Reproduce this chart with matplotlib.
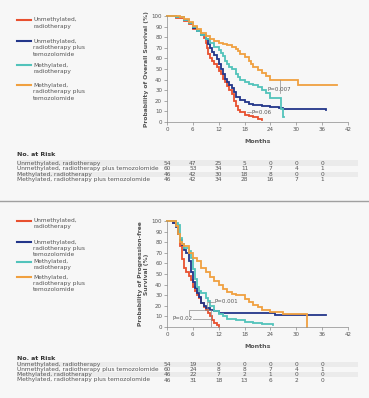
import matplotlib
matplotlib.use('Agg')
import matplotlib.pyplot as plt
import matplotlib.transforms as mtransforms
from matplotlib.lines import Line2D
from matplotlib.patches import Rectangle

W, H = 369, 398

# ---- data ----
groups = ['Unmethylated, radiotherapy',
          'Unmethylated, radiotherapy plus temozolomide',
          'Methylated, radiotherapy',
          'Methylated, radiotherapy plus temozolomide']
legend_labels = ['Unmethylated,\nradiotherapy',
                 'Unmethylated,\nradiotherapy plus\ntemozolomide',
                 'Methylated,\nradiotherapy',
                 'Methylated,\nradiotherapy plus\ntemozolomide']
colors = ['#e8502f', '#23368a', '#52c3bb', '#f0a040']

x_ticks = [0, 6, 12, 18, 24, 30, 36, 42]
y_ticks = [0, 10, 20, 30, 40, 50, 60, 70, 80, 90, 100]
risk_months = [0, 6, 12, 18, 24, 30, 36]

# overall survival, step points (months, %)
os_t = [
    [0, 2, 4, 5, 6, 7, 8, 8.5, 9, 9.3, 9.6, 10, 10.5, 11, 11.5, 12, 12.5, 13, 13.5, 14, 14.5, 15, 15.5, 16, 16.5, 17, 18, 19, 20, 21, 22],
    [0, 2, 4, 5, 6, 7, 8, 9, 9.5, 10, 10.5, 11, 11.5, 12, 12.5, 13, 13.5, 14, 14.5, 15, 15.5, 16, 17, 18, 19, 20, 22, 24, 26, 27, 37],
    [0, 2, 4, 5, 6, 7, 8, 9, 10, 11, 12, 12.5, 13, 13.5, 14, 14.5, 15, 16, 16.5, 17, 18, 19, 20, 21, 22, 23, 24, 25, 26.5, 27, 27.2],
    [0, 3, 4, 5, 6, 7, 8, 9, 10, 11, 12, 13, 14, 15, 16, 16.5, 17, 18, 19, 19.5, 20, 21, 22, 23, 24, 27, 28, 30.5, 39.5],
]
os_s = [
    [100, 98, 95, 92, 88, 86, 82, 79, 75, 70, 64, 60, 58, 55, 52, 48, 45, 41, 38, 34, 30, 26, 20, 15, 11, 9, 7, 6, 5, 3, 2],
    [100, 99, 96, 93, 89, 86, 82, 78, 74, 70, 66, 63, 59, 55, 50, 45, 41, 38, 35, 32, 28, 24, 21, 19, 17, 16, 15, 14, 13, 12, 11],
    [100, 99, 96, 93, 90, 86, 82, 78, 75, 71, 68, 65, 62, 58, 55, 52, 50, 45, 42, 40, 38, 36, 35, 33, 30, 27, 23, 23, 12, 5, 5],
    [100, 99, 97, 94, 91, 88, 84, 81, 78, 76, 75, 74, 73, 71, 69, 67, 64, 61, 58, 55, 52, 49, 46, 43, 40, 40, 40, 35, 35],
]

# progression-free survival, step points (months, %)
pfs_t = [
    [0, 1.5, 2, 2.5, 3, 3.5, 4, 4.5, 5, 5.5, 6, 6.5, 7, 7.5, 8, 8.5, 9, 9.5, 10, 10.5, 11, 11.5, 12],
    [0, 1.5, 2, 2.5, 3, 3.5, 4, 4.5, 5, 5.5, 6, 6.5, 7, 7.5, 8, 8.5, 9, 10, 11, 12, 24, 25, 37],
    [0, 2, 2.5, 3, 3.5, 4, 5, 5.5, 6, 6.5, 7, 7.5, 8, 9, 9.5, 10, 11, 12, 13, 14, 16, 18, 20, 22, 24.5],
    [0, 1, 2, 2.5, 3, 3.5, 4, 5, 6, 7, 8, 9, 10, 11, 12, 13, 14, 15, 16, 18, 19, 20, 21, 22, 24, 27, 32.3, 32.4],
]
pfs_s = [
    [100, 98, 95, 88, 76, 64, 56, 52, 48, 44, 38, 34, 30, 27, 23, 19, 16, 13, 10, 7, 4, 2, 0],
    [100, 98, 94, 88, 82, 77, 73, 70, 62, 52, 42, 37, 32, 28, 23, 20, 18, 16, 15, 13, 13, 11, 11],
    [100, 98, 96, 84, 78, 75, 72, 65, 55, 45, 38, 34, 32, 27, 25, 20, 15, 12, 10, 8, 7, 5, 4, 3, 2],
    [100, 100, 95, 88, 80, 78, 76, 70, 65, 62, 56, 52, 47, 43, 40, 36, 33, 31, 30, 26, 24, 21, 19, 16, 14, 12, 12, 0],
]

os_risk = [[54, 47, 25, 5, 0, 0, 0],
           [60, 53, 34, 11, 7, 4, 1],
           [46, 42, 30, 18, 8, 0, 0],
           [46, 42, 34, 28, 16, 7, 1]]
pfs_risk = [[54, 19, 0, 0, 0, 0, 0],
            [60, 24, 8, 8, 7, 4, 1],
            [46, 22, 7, 2, 1, 0, 0],
            [46, 31, 18, 13, 6, 2, 0]]

txt = '#555555'
grey = '#8a8a8a'
plt.rcParams['font.family'] = ['DejaVu Sans']

fig = plt.figure(figsize=(W / 100, H / 100), dpi=100, facecolor='#f7f7f7')


def fy(py):
    return 1 - py / H


def fx(px):
    return px / W


def panel(top_px, times, surv, ylabel, risk, legend_y, header_y, row_y, line_sp):
    ax = fig.add_axes([fx(167), fy(top_px + 106), fx(181), 106 / H])
    ax.set_facecolor('none')
    for t, s, c in zip(times, surv, colors):
        ax.step(t, s, where='post', color=c, lw=1.3, clip_on=False, solid_joinstyle='miter')
    ax.set_xlim(0, 42)
    ax.set_ylim(0, 100)
    ax.set_xticks(x_ticks)
    ax.set_yticks(y_ticks)
    ax.tick_params(labelsize=4, colors=grey, labelcolor=txt, length=2, width=0.5, pad=1.5)
    for sp in ['top', 'right']:
        ax.spines[sp].set_visible(False)
    for sp in ['left', 'bottom']:
        ax.spines[sp].set_color(grey)
        ax.spines[sp].set_linewidth(0.5)
    ax.set_xlabel('Months', fontsize=4.5, color=txt, fontweight='semibold', labelpad=5)
    ax.set_ylabel(ylabel, fontsize=4.3, color=txt, fontweight='semibold', labelpad=2, linespacing=1.1)

    # legend
    for lab, c, ly in zip(legend_labels, colors, legend_y):
        fig.add_artist(Line2D([fx(17), fx(31)], [fy(ly), fy(ly)], color=c, lw=1.5))
        fig.text(fx(33), fy(ly - 2.5), lab, fontsize=4.2, color=txt, va='top', ha='left',
                 linespacing=line_sp)

    # risk table
    fig.text(fx(17), fy(header_y), 'No. at Risk', fontsize=4.5, color='#333333',
             fontweight='bold', va='center', ha='left')
    trans = mtransforms.blended_transform_factory(ax.transData, fig.transFigure)
    for i, (g, row, ry) in enumerate(zip(groups, risk, row_y)):
        if i % 2 == 0:
            fig.add_artist(Rectangle((fx(17), fy(ry + 2.8)), fx(341), 5.6 / H,
                                     transform=fig.transFigure, color='#ebebeb', lw=0, zorder=0))
        fig.text(fx(17), fy(ry), g, fontsize=4.2, color=txt, va='center', ha='left')
        for m, n in zip(risk_months, row):
            fig.text(m, fy(ry), str(n), transform=trans, fontsize=4.2, color=txt,
                     va='center', ha='center')
    return ax


ax1 = panel(16, os_t, os_s, 'Probability of Overall Survival (%)', os_risk,
            [20, 41, 65, 85], 155, [163, 168.7, 174.3, 180], 1.45)
ax1.plot([26.2, 26.2], [40, 27], color=grey, lw=0.5)
ax1.text(23.3, 31, 'P=0.007', fontsize=4, color=txt, va='center', ha='left')
ax1.plot([18.5, 19.4], [9, 9], color=grey, lw=0.5)
ax1.text(19.5, 9, 'P=0.06', fontsize=4, color=txt, va='center', ha='left')

ax2 = panel(221, pfs_t, pfs_s, 'Probability of Progression-free\nSurvival (%)', pfs_risk,
            [220.7, 242.3, 261.7, 277.3], 359, [364.5, 369.5, 374.5, 380], 1.3)
ax2.plot([9.3, 9.3, 10.8], [17, 24, 24], color=grey, lw=0.5)
ax2.text(11.0, 24, 'P=0.001', fontsize=4, color=txt, va='center', ha='left')
ax2.plot([5, 5, 10.3, 10.3], [10, 16, 16, 0], color=grey, lw=0.5)
ax2.plot([4.5, 10.3], [8, 8], color=grey, lw=0.5)
ax2.text(1.3, 8, 'P=0.02', fontsize=4, color=txt, va='center', ha='left',
         bbox=dict(facecolor='#f7f7f7', edgecolor='none', pad=0.3))

# separator between the two panels
fig.add_artist(Line2D([0, 1], [fy(201), fy(201)], color='#a0a0a0', lw=1.0))

fig.savefig('out.png', dpi=100, facecolor=fig.get_facecolor())
